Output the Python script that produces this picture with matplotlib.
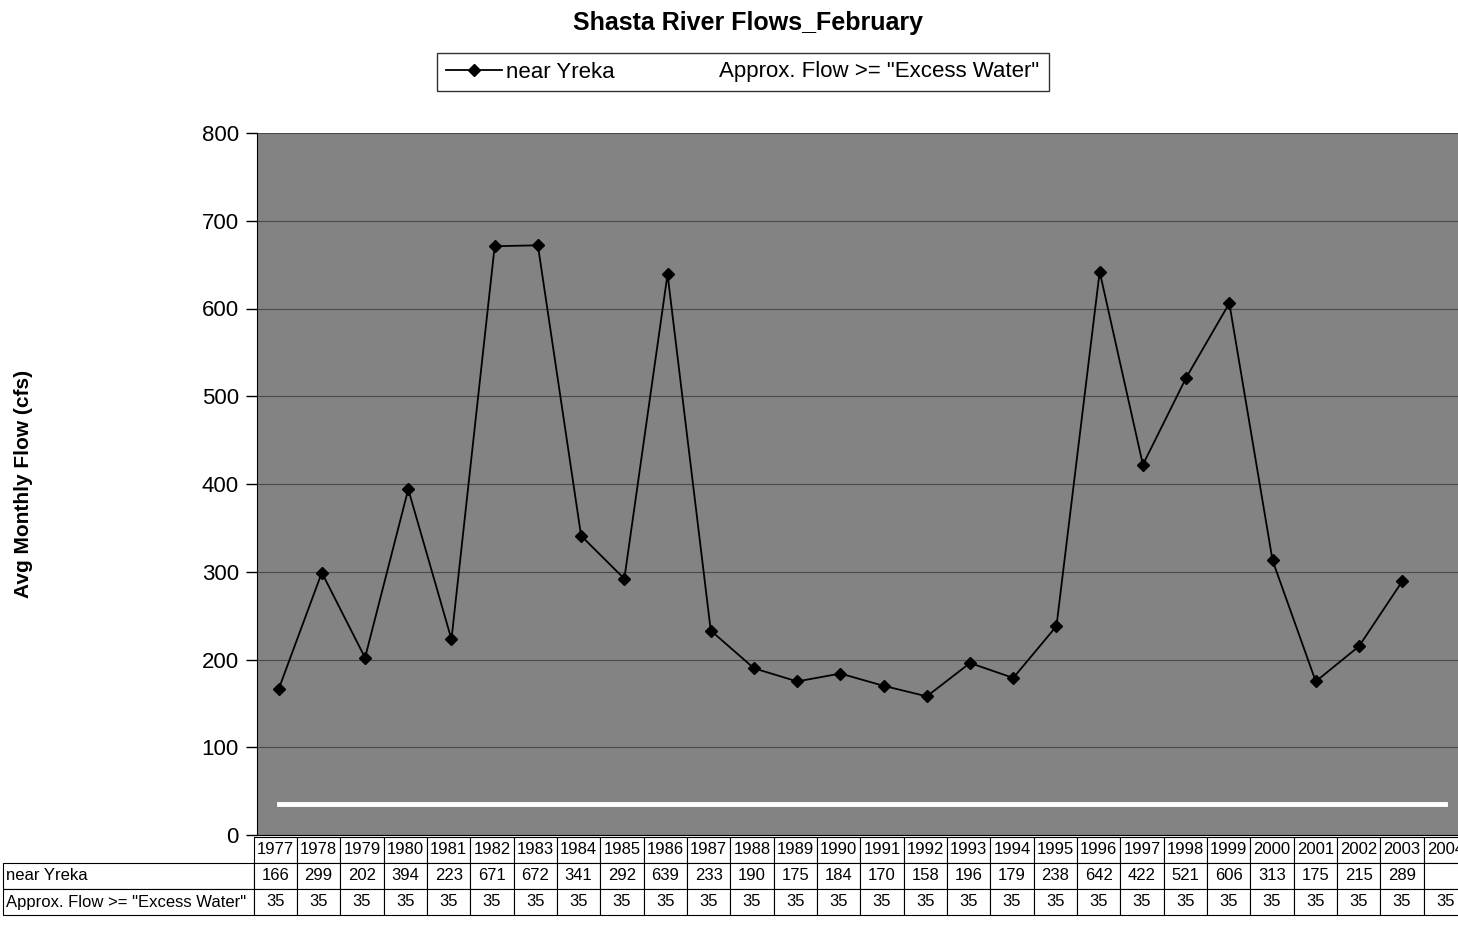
import numpy as np
import matplotlib
matplotlib.use("Agg")
import matplotlib.pyplot as plt

plt.rcParams['font.family'] = ['Liberation Sans', 'DejaVu Sans']

years = [str(y) for y in range(1977, 2005)]
near_yreka = [166, 299, 202, 394, 223, 671, 672, 341, 292, 639, 233, 190, 175, 184,
              170, 158, 196, 179, 238, 642, 422, 521, 606, 313, 175, 215, 289, np.nan]
excess_water = [35] * 28
series_names = ['near Yreka', 'Approx. Flow >= "Excess Water"']

W, H = 1458, 933
fig = plt.figure(figsize=(W / 100, H / 100), dpi=100)

# plot area runs a little past the right edge, like the scanned page
ax_left, ax_right, ax_top, ax_bot = 257, 1467, 133, 835
ax = fig.add_axes([ax_left / W, 1 - ax_bot / H, (ax_right - ax_left) / W, (ax_bot - ax_top) / H])
ax.set_facecolor('#838383')

x = np.arange(len(years))
ax.plot(x, near_yreka, color='black', lw=1.3, marker='D', ms=6, label=series_names[0])
ax.plot(x, excess_water, color='white', lw=3.5, label=series_names[1])

ax.set_xlim(-0.5, len(years) - 0.5)
ax.set_ylim(0, 800)
ax.set_yticks(range(0, 801, 100))
ax.yaxis.grid(True, color='#4a4a4a', lw=0.8)
ax.set_axisbelow(True)
ax.set_xticks([])
ax.tick_params(axis='y', labelsize=16, length=8, width=1, pad=5)
for s in ['top', 'right']:
    ax.spines[s].set_visible(False)

ax.set_ylabel('Avg Monthly Flow (cfs)', fontsize=15, fontweight='bold')
ax.yaxis.set_label_coords((33 - ax_left) / (ax_right - ax_left), 0.5)

# data table under the axis
ax_w = ax_right - ax_left
ax_h = ax_bot - ax_top
label_w = 250
cell_w = ax_w / len(years)
rows = [[series_names[0]] + [('' if np.isnan(v) else str(int(v))) for v in near_yreka],
        [series_names[1]] + [str(v) for v in excess_water]]
tab = ax.table(cellText=rows, colLabels=[''] + years,
               colWidths=[label_w / ax_w] + [cell_w / ax_w] * len(years),
               cellLoc='center',
               bbox=[-(label_w + 4) / ax_w, -80 / ax_h, (label_w + 4 + ax_w) / ax_w, 78 / ax_h])
tab.auto_set_font_size(False)
tab.set_fontsize(12)
for (r, c), cell in tab.get_celld().items():
    cell.set_linewidth(0.8)
    if c == 0:
        cell.set_text_props(ha='left')
        cell._loc = 'left'
        cell.PAD = 0.01
    if r == 0 and c == 0:
        cell.visible_edges = ''

fig.text(748 / W, 1 - 23 / H, 'Shasta River Flows_February', ha='center', va='center',
         fontsize=18, fontweight='bold')

fig.legend(loc='center', bbox_to_anchor=(743 / W, 1 - 72 / H), ncol=2, fontsize=16,
           frameon=True, fancybox=False, edgecolor='black', handlelength=2.5,
           handletextpad=0.2, columnspacing=2.0, borderpad=0.4, borderaxespad=0,
           handleheight=0.7)

fig.savefig('out.png', dpi=100)
